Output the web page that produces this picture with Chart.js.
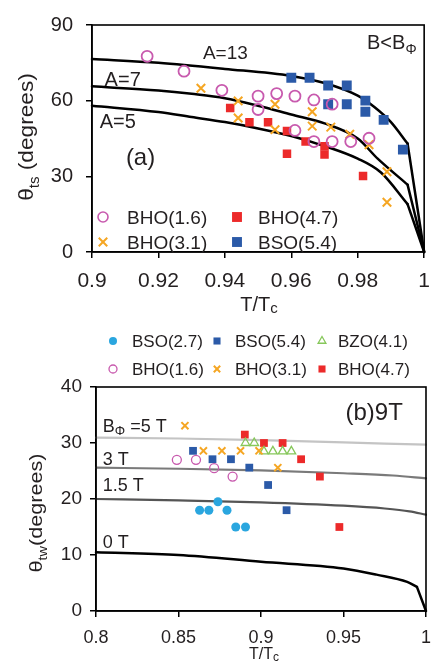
<!DOCTYPE html>
<html><head><meta charset="utf-8">
<script src="https://cdn.jsdelivr.net/npm/chart.js@4.4.0/dist/chart.umd.min.js"></script>
<style>
html,body{margin:0;padding:0;background:#fff;width:441px;height:666px;overflow:hidden}
canvas{position:absolute;left:0}
#ca{top:0;width:441px;height:320px}
#cb{top:320px;width:441px;height:346px}
</style></head><body>
<canvas id="ca" width="441" height="320"></canvas>
<canvas id="cb" width="441" height="346"></canvas>
<script>
const FONT = "'Liberation Sans', Arial, Helvetica, sans-serif";
const TXT = '#231f20';

// ---------- Panel (a) data ----------
const xTicksA = [0.9, 0.92, 0.94, 0.96, 0.98, 1];
const yTicksA = [0, 30, 60, 90];
const curveA13 = [[0.9,76.5],[0.92,75],[0.94,72.6],[0.96,69.8],[0.97,67],[0.98,62],[0.985,57.5],[0.99,51.5],[0.995,43],[1,0]];
const curveA7  = [[0.9,65.7],[0.92,64],[0.93,62.7],[0.94,61],[0.95,58],[0.96,54.5],[0.97,51],[0.98,45],[0.986,37],[0.995,26.7],[1,0]];
const curveA5  = [[0.9,58],[0.92,55.5],[0.93,53.5],[0.94,51.5],[0.95,49],[0.96,46],[0.97,42],[0.98,37],[0.987,31.5],[0.995,19],[1,0]];
const bho16A = [[0.9166,77.6],[0.9277,71.7],[0.9391,64.1],[0.950,61.8],[0.9556,62.8],[0.9611,61.8],[0.9668,60.3],[0.9723,58.6],[0.950,56.5],[0.9611,48.2],[0.9668,43.8],[0.9723,43.8],[0.9779,43.8],[0.9834,45.1]];
const bho31A = [[0.9328,64.9],[0.944,59.9],[0.9551,58.6],[0.944,53.1],[0.9551,48.5],[0.9663,55.6],[0.9663,49.9],[0.9719,49.5],[0.9776,46.7],[0.9834,42.5],[0.9888,31.8],[0.9888,19.7]];
const bho47A = [[0.9416,57.1],[0.9474,51.4],[0.953,51.4],[0.9587,48],[0.9587,39],[0.9643,43.8],[0.970,41.9],[0.970,38.7],[0.9816,30.1]];
const bso54A = [[0.960,69.1],[0.9655,69.1],[0.9711,66],[0.9767,66],[0.9711,58.6],[0.9767,58.6],[0.9823,60],[0.9823,55.6],[0.9878,52.4],[0.9936,40.6]];
const legendA = [['bho16','BHO(1.6)'],['bho31','BHO(3.1)'],['bho47','BHO(4.7)'],['bso54','BSO(5.4)']];

// ---------- Panel (b) data ----------
const xTicksB = [0.8, 0.85, 0.9, 0.95, 1];
const yTicksB = [0, 10, 20, 30, 40];
const curveB5  = [[0.8,30.95],[0.85,30.8],[0.9,30.5],[0.95,30.1],[1,29.7]];
const curveB3  = [[0.8,25.6],[0.85,25.4],[0.9,25.1],[0.95,24.6],[0.98,24.2],[1,23.7]];
const curveB15 = [[0.8,20],[0.85,19.75],[0.9,19.4],[0.95,18.8],[0.975,18.3],[0.99,17.8],[1,17.2]];
const curveB0  = [[0.8,10.5],[0.85,10],[0.9,8.8],[0.95,7.6],[0.97,6.5],[0.9886,5.2],[0.9945,4.3],[1,0]];
const bso27B = [[0.8628,18],[0.8684,18],[0.8739,19.5],[0.8794,18],[0.8847,15],[0.8906,15]];
const bso54B = [[0.8588,28.6],[0.8706,27.1],[0.8818,27.1],[0.8929,25.6],[0.9043,22.5],[0.9155,18]];
const bzo41B = [[0.8906,30],[0.8959,30],[0.9018,28.5],[0.9072,28.5],[0.9131,28.5],[0.9184,28.5]];
const bho16B = [[0.849,27],[0.8606,27],[0.8716,25.5],[0.8828,24]];
const bho31B = [[0.8539,33.1],[0.8651,28.6],[0.8763,28.6],[0.8876,28.6],[0.8988,28.6],[0.9102,25.6]];
const bho47B = [[0.8902,31.5],[0.9018,30],[0.9131,30],[0.9243,27.1],[0.9357,24],[0.9475,15]];
const legendB = [['bso27','BSO(2.7)'],['bso54','BSO(5.4)'],['bzo41','BZO(4.1)'],['bho16','BHO(1.6)'],['bho31','BHO(3.1)'],['bho47','BHO(4.7)']];

// ---------- styles ----------
const STY = {
  bho16: {color:'#c85aae', ps:'circle',   filled:false},
  bho31: {color:'#f5a623', ps:'crossRot', filled:false},
  bho47: {color:'#ec2a2a', ps:'rect',     filled:true},
  bso54: {color:'#2b5aa8', ps:'rect',     filled:true},
  bso27: {color:'#2aa6df', ps:'circle',   filled:true},
  bzo41: {color:'#86c75a', ps:'triangle', filled:false}
};
const toXY = a => a.map(p => ({x:p[0], y:p[1]}));

function pts(key, data, r, bw, order) {
  const s = STY[key];
  return {type:'scatter', data:toXY(data), showLine:false, order,
    pointStyle:s.ps, pointRadius:r, pointHoverRadius:r, pointBorderWidth:bw,
    pointBorderColor:s.color, pointBackgroundColor:s.filled ? s.color : 'rgba(255,255,255,0)',
    borderColor:s.color, backgroundColor:s.color};
}
function seg(data, color, w, smooth) {
  return {type:'line', data:toXY(data), borderColor:color, borderWidth:w, pointRadius:0,
    fill:false, cubicInterpolationMode: smooth ? 'monotone' : 'default', tension:0,
    order:10, clip:4, borderCapStyle:'round', borderJoinStyle:'round'};
}
// smooth body + straight final drop
function curve(data, color, w, straightTail) {
  if (!straightTail) return [seg(data, color, w, true)];
  return [seg(data.slice(0, -1), color, w, true), seg(data.slice(-2), color, w, false)];
}
function axis(min, max, ticks, size, pad, prop, val) {
  return {type:'linear', min, max,
    afterBuildTicks: s => { s.ticks = ticks.map(v => ({value:v})); },
    afterFit: s => { s[prop] = val; },
    ticks:{font:{family:FONT, size}, color:TXT, padding:pad, autoSkip:false, maxRotation:0,
      callback: v => String(v)},
    grid:{drawOnChartArea:false, drawTicks:true, tickLength:6, color:'#000', lineWidth:1.5},
    border:{display:true, color:'#000', width:1.5}};
}
function runs(ctx, x, y, parts, align, stretch) {
  stretch = stretch || 1;
  ctx.save();
  ctx.textBaseline = 'alphabetic'; ctx.fillStyle = TXT;
  const w = parts.map(p => { ctx.font = p[1] + 'px ' + FONT; return ctx.measureText(p[0]).width; });
  const total = w.reduce((a,b) => a+b, 0) * stretch;
  const sx = align === 'center' ? x - total/2 : x;
  ctx.translate(sx, y); ctx.scale(stretch, 1);
  let px = 0;
  parts.forEach((p,i) => { ctx.font = p[1] + 'px ' + FONT; ctx.fillText(p[0], px, p[2] || 0); px += w[i]; });
  ctx.restore();
}
function runsRot(ctx, x, y, parts, stretch) {
  ctx.save(); ctx.translate(x, y); ctx.rotate(-Math.PI/2);
  runs(ctx, 0, 0, parts, 'center', stretch); ctx.restore();
}
function marker(ctx, key, x, y, r, bw) {
  const s = STY[key];
  ctx.save();
  ctx.strokeStyle = s.color; ctx.fillStyle = s.filled ? s.color : 'rgba(255,255,255,0)';
  ctx.lineWidth = bw;
  Chart.helpers.drawPoint(ctx, {pointStyle:s.ps, radius:r, rotation:0, borderWidth:bw}, x, y);
  ctx.restore();
}
function frame(chart) {
  const a = chart.chartArea, ctx = chart.ctx;
  ctx.save(); ctx.strokeStyle = '#000'; ctx.lineWidth = 1.6;
  ctx.strokeRect(a.left, a.top, a.right - a.left, a.bottom - a.top); ctx.restore();
}

// ---------- Chart (a) ----------
new Chart(document.getElementById('ca'), {
  type:'scatter',
  data:{datasets:[
    ...curve(curveA13, '#000', 2.5, true), ...curve(curveA7, '#000', 2.5, true), ...curve(curveA5, '#000', 2.5, true),
    pts('bho16', bho16A, 5.5, 1.8, 1),
    pts('bho31', bho31A, 6, 2, 2),
    pts('bho47', bho47A, 6, 0, 3),
    pts('bso54', bso54A, 7, 0, 4)
  ]},
  options:{responsive:false, animation:false, devicePixelRatio:1,
    layout:{padding:{left:0, right:5, top:15, bottom:0}},
    plugins:{legend:{display:false}, tooltip:{enabled:false}},
    scales:{
      x: axis(0.9, 1, xTicksA, 21, 11, 'height', 68),
      y: axis(0, 90, yTicksA, 20, 13, 'width', 92)
    }},
  plugins:[{id:'decoA', afterDraw(chart){
    const ctx = chart.ctx, xs = chart.scales.x, ys = chart.scales.y, a = chart.chartArea;
    frame(chart);
    const X = v => xs.getPixelForValue(v), Y = v => ys.getPixelForValue(v);
    runs(ctx, X(0.9334), Y(76.4), [['A=13', 19]]);
    runs(ctx, X(0.9038), Y(65.7), [['A=7', 20]]);
    runs(ctx, X(0.9023), Y(49), [['A=5', 20]]);
    runs(ctx, X(0.9102), Y(34.6), [['(a)', 24]]);
    runs(ctx, X(0.9828), Y(80.5), [['B<B', 20], ['\u03A6', 14, 5]]);
    // legend
    const colX = [a.left + 11, a.left + 145], txtX = [a.left + 35, a.left + 166];
    const rowY = [a.top + 192, a.top + 217];
    legendA.forEach((it, i) => {
      const c = Math.floor(i / 2), r = i % 2;
      const k = it[0];
      const rad = STY[k].ps === 'rect' ? 7 : (STY[k].ps === 'crossRot' ? 6 : 5);
      marker(ctx, k, colX[c], rowY[r], rad, STY[k].ps === 'rect' ? 0 : (STY[k].ps === 'crossRot' ? 2 : 1.6));
      runs(ctx, txtX[c], rowY[r] + 6.8, [[it[1], 19]]);
    });
    // axis titles
    runs(ctx, (a.left + a.right) / 2 + 1, 311, [['T/T', 20], ['c', 15, 2]], 'center');
    runsRot(ctx, 33, 137, [['\u03B8', 21], ['ts', 14, 6], [' (degrees)', 21]], 1.08);
  }}]
});

// ---------- Chart (b) ----------
new Chart(document.getElementById('cb'), {
  type:'scatter',
  data:{datasets:[
    ...curve(curveB5, '#c4c4c4', 2.2), ...curve(curveB3, '#7a7a7a', 2.2), ...curve(curveB15, '#555', 2.2),
    ...curve(curveB0, '#000', 2.5, true),
    pts('bso27', bso27B, 4.5, 0, 6),
    pts('bso54', bso54B, 5.5, 0, 5),
    pts('bho47', bho47B, 5.5, 0, 4),
    pts('bzo41', bzo41B, 5, 1.3, 3),
    pts('bho16', bho16B, 4.5, 1.3, 2),
    pts('bho31', bho31B, 5, 2, 1)
  ]},
  options:{responsive:false, animation:false, devicePixelRatio:1,
    layout:{padding:{left:0, right:5, top:67, bottom:0}},
    plugins:{legend:{display:false}, tooltip:{enabled:false}},
    scales:{
      x: axis(0.8, 1, xTicksB, 18, 10, 'height', 55),
      y: axis(0, 40, yTicksB, 19, 8, 'width', 96)
    }},
  plugins:[{id:'decoB', afterDraw(chart){
    const ctx = chart.ctx, xs = chart.scales.x, ys = chart.scales.y, a = chart.chartArea;
    frame(chart);
    const X = v => xs.getPixelForValue(v), Y = v => ys.getPixelForValue(v);
    runs(ctx, X(0.8041), Y(31.96), [['B', 18], ['\u03A6', 13, 3], [' =5 T', 18]]);
    runs(ctx, X(0.8041), Y(26.07), [['3 T', 18]]);
    runs(ctx, X(0.8041), Y(21.43), [['1.5 T', 18]]);
    runs(ctx, X(0.8041), Y(11.25), [['0 T', 18]]);
    runs(ctx, X(0.9512), Y(34.1), [['(b)9T', 24]]);
    // legend
    const colX = [113, 217, 322], txtX = [132, 235, 338], rowY = [21, 49];
    legendB.forEach((it, i) => {
      const c = i % 3, r = Math.floor(i / 3), k = it[0], ps = STY[k].ps;
      const rad = ps === 'rect' ? 5 : (ps === 'crossRot' ? 4.5 : (ps === 'triangle' ? 4.5 : 4));
      const bw = ps === 'rect' || STY[k].filled ? 0 : (ps === 'crossRot' ? 2 : 1.3);
      marker(ctx, k, colX[c], rowY[r], rad, bw);
      runs(ctx, txtX[c], rowY[r] + 6, [[it[1], 17]]);
    });
    // axis titles
    runs(ctx, (a.left + a.right) / 2 + 3, 339, [['T/T', 16], ['c', 12, 2]], 'center');
    runsRot(ctx, 42, 193, [['\u03B8', 18], ['tw', 12, 5], ['(degrees)', 18]], 1.2);
  }}]
});
</script></body></html>
